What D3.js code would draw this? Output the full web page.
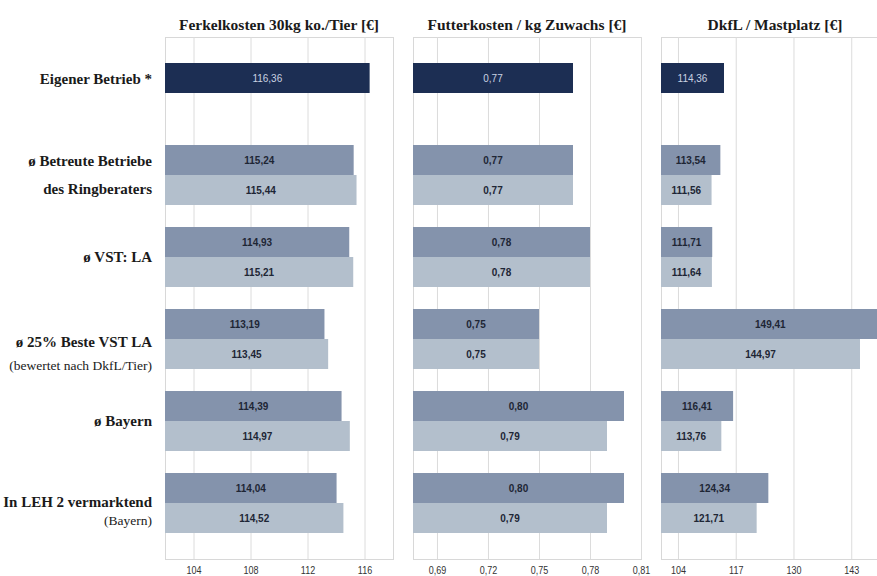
<!DOCTYPE html>
<html>
<head>
<meta charset="utf-8">
<script src="https://cdn.jsdelivr.net/npm/d3@7"></script>
<style>
  html, body { margin: 0; padding: 0; background: #ffffff; }
  svg { display: block; }
</style>
</head>
<body>
<svg id="chart" width="877" height="576"></svg>
<script>
// Row labels (each entry may span several lines)
const categories = [
  "Eigener Betrieb *",
  "ø Betreute Betriebe des Ringberaters",
  "ø VST: LA",
  "ø 25% Beste VST LA",
  "ø Bayern",
  "In LEH 2 vermarktend"
];
const categoryLines = [
  [{ t: "Eigener Betrieb *", main: true }],
  [{ t: "ø Betreute Betriebe", main: true }, { t: "des Ringberaters", main: true }],
  [{ t: "ø VST: LA", main: true }],
  [{ t: "ø 25% Beste VST LA", main: true }, { t: "(bewertet nach DkfL/Tier)", main: false }],
  [{ t: "ø Bayern", main: true }],
  [{ t: "In LEH 2 vermarktend", main: true }, { t: "(Bayern)", main: false }]
];

// Panel titles
const panelTitles = [
  "Ferkelkosten 30kg ko./Tier [€]",
  "Futterkosten / kg Zuwachs [€]",
  "DkfL / Mastplatz [€]"
];

// Own farm (single bar in the first row)
const ownValues = [116.36, 0.77, 114.36];

// Comparison groups: first series (darker) and second series (lighter)
const ferkelSeriesA = [115.24, 114.93, 113.19, 114.39, 114.04];
const ferkelSeriesB = [115.44, 115.21, 113.45, 114.97, 114.52];
const futterSeriesA = [0.77, 0.78, 0.75, 0.80, 0.80];
const futterSeriesB = [0.77, 0.78, 0.75, 0.79, 0.79];
const dkflSeriesA = [113.54, 111.71, 149.41, 116.41, 124.34];
const dkflSeriesB = [111.56, 111.64, 144.97, 113.76, 121.71];

// Axis tick values per panel
const ferkelTicks = [104, 108, 112, 116];
const futterTicks = [0.69, 0.72, 0.75, 0.78, 0.81];
const dkflTicks = [104, 117, 130, 143];

// Axis ranges per panel
const ferkelDomain = [102, 118];
const futterDomain = [0.6759, 0.81];
const dkflDomain = [100.18, 151.5];

const de = d3.formatLocale({ decimal: ",", thousands: ".", grouping: [3], currency: ["", "€"] });
const fmt2 = de.format(".2f");

const svg = d3.select("#chart");

const panels = [
  { title: panelTitles[0], own: ownValues[0], a: ferkelSeriesA, b: ferkelSeriesB, ticks: ferkelTicks, domain: ferkelDomain, tickFmt: de.format("d"), left: 165 },
  { title: panelTitles[1], own: ownValues[1], a: futterSeriesA, b: futterSeriesB, ticks: futterTicks, domain: futterDomain, tickFmt: de.format(".2f"), left: 413 },
  { title: panelTitles[2], own: ownValues[2], a: dkflSeriesA, b: dkflSeriesB, ticks: dkflTicks, domain: dkflDomain, tickFmt: de.format("d"), left: 661 }
];

const panelW = 228;
const boxTop = 37, boxBottom = 559;

const y = d3.scaleBand()
  .domain(categories)
  .range([52, 544])
  .paddingInner(22 / 82)
  .paddingOuter(11 / 82);

const sub = d3.scaleBand()
  .domain(["a", "b"])
  .range([0, y.bandwidth()]);

const colors = { own: "#1c2e53", a: "#8493ac", b: "#b3bfcc" };

const serif = "'Liberation Serif', 'DejaVu Serif', serif";

panels.forEach(p => {
  const g = svg.append("g").attr("transform", `translate(${p.left},0)`);
  const x = d3.scaleLinear().domain(p.domain).range([0, panelW]);

  // box
  g.append("rect")
    .attr("x", 0.5).attr("y", boxTop + 0.5)
    .attr("width", panelW).attr("height", boxBottom - boxTop)
    .attr("fill", "#ffffff")
    .attr("stroke", "#d8d8d8");

  // vertical gridlines + tick labels
  const axis = d3.axisBottom(x)
    .tickValues(p.ticks)
    .tickFormat(p.tickFmt)
    .tickSize(-(boxBottom - boxTop))
    .tickPadding(8);
  const ax = g.append("g")
    .attr("transform", `translate(0,${boxBottom})`)
    .call(axis);
  ax.select(".domain").remove();
  ax.selectAll(".tick line").attr("stroke", "#dcdcdc").attr("stroke-width", 1);
  ax.selectAll(".tick text")
    .attr("fill", "#333333")
    .attr("font-family", "'Liberation Sans Narrow', 'Liberation Sans', Arial, sans-serif")
    .attr("font-size", 10)
    .attr("transform", "scale(0.9,1)");

  // title
  g.append("text")
    .attr("x", panelW / 2).attr("y", 30)
    .attr("text-anchor", "middle")
    .attr("font-family", serif)
    .attr("font-weight", "bold")
    .attr("font-size", 15.5)
    .attr("fill", "#1a1a1a")
    .text(p.title);

  // own farm bar
  const x0 = x(p.domain[0]);
  g.append("rect")
    .attr("x", x0).attr("y", y(categories[0]))
    .attr("width", x(p.own) - x0).attr("height", sub.bandwidth())
    .attr("fill", colors.own);
  g.append("text")
    .attr("x", (x0 + x(p.own)) / 2)
    .attr("y", y(categories[0]) + sub.bandwidth() / 2)
    .attr("dy", "0.35em")
    .attr("text-anchor", "middle")
    .attr("font-family", "'Liberation Sans', Arial, sans-serif")
    .attr("font-size", 10)
    .attr("fill", "#c9d2e2")
    .text(fmt2(p.own));

  // comparison groups
  const rows = categories.slice(1).map((c, i) => ({ c, a: p.a[i], b: p.b[i] }));
  const grp = g.selectAll("g.row").data(rows).join("g")
    .attr("class", "row")
    .attr("transform", d => `translate(0,${y(d.c)})`);
  ["a", "b"].forEach(k => {
    grp.append("rect")
      .attr("x", x0).attr("y", sub(k))
      .attr("width", d => x(d[k]) - x0)
      .attr("height", sub.bandwidth())
      .attr("fill", colors[k]);
    grp.append("text")
      .attr("x", d => (x0 + x(d[k])) / 2)
      .attr("y", sub(k) + sub.bandwidth() / 2)
      .attr("dy", "0.35em")
      .attr("text-anchor", "middle")
      .attr("font-family", "'Liberation Sans', Arial, sans-serif")
      .attr("font-weight", "bold")
      .attr("font-size", 10)
      .attr("fill", "#1e2635")
      .text(d => fmt2(d[k]));
  });
});

// row labels on the left
const lab = svg.append("g");
categories.forEach((c, i) => {
  const lines = categoryLines[i];
  const top = y(c);
  const half = y.bandwidth() / 2;
  let ys;
  if (i === 0) ys = [top + sub.bandwidth() / 2 + 1];
  else if (lines.length === 1) ys = [top + half];
  else if (lines[1].main) ys = [top + sub.bandwidth() / 2 + 1, top + sub.bandwidth() * 1.5 - 1];
  else if (i === 3) ys = [top + half + 3, top + half + 26];
  else ys = [top + half - 1, top + half + 17];
  lines.forEach((ln, j) => {
    lab.append("text")
      .attr("x", 152)
      .attr("y", ys[j])
      .attr("dy", "0.35em")
      .attr("text-anchor", "end")
      .attr("font-family", serif)
      .attr("font-weight", ln.main ? "bold" : "normal")
      .attr("font-size", ln.main ? 15 : 13.5)
      .attr("fill", "#1a1a1a")
      .text(ln.t);
  });
});
</script>
</body>
</html>
